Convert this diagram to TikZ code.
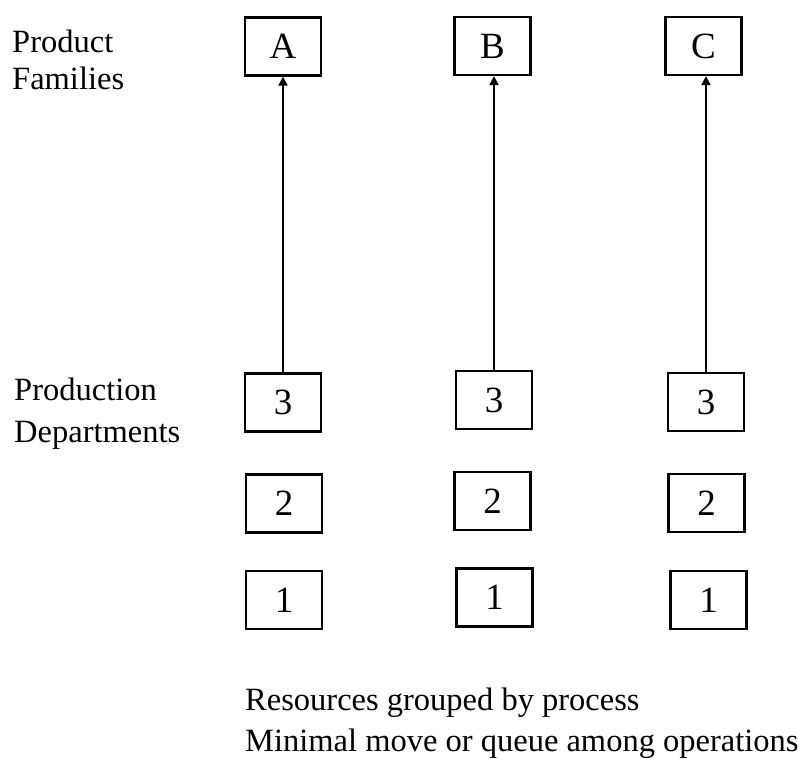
\documentclass[tikz,border=0pt]{standalone}
\usepackage{fontspec}
\setmainfont{Liberation Serif}
\usetikzlibrary{arrows.meta}
\begin{document}
\begin{tikzpicture}[x=1pt,y=-1pt,
  dept/.style={draw=black,line width=2.3pt,minimum width=76pt,minimum height=58pt,
    inner sep=0pt,font=\fontsize{37}{37}\selectfont},
  label/.style={anchor=north west,align=left,inner sep=0pt},
  flow/.style={line width=2pt,-{Triangle[length=9pt,width=9pt]}}]
\useasboundingbox (0,0) rectangle (798,758);
% product families
\node[dept] (fa) at (283,46.5) {A};
\node[dept] (fb) at (492.5,46) {B};
\node[dept] (fc) at (703.5,46) {C};
% production departments, one column per family
\node[dept] (a3) at (283,402.5) {3};
\node[dept] (a2) at (284,503.5) {2};
\node[dept] (a1) at (284,600) {1};
\node[dept] (b3) at (494,400) {3};
\node[dept] (b2) at (492.5,501) {2};
\node[dept] (b1) at (494.5,597.5) {1};
\node[dept] (c3) at (706,402) {3};
\node[dept] (c2) at (706.5,503) {2};
\node[dept] (c1) at (708.5,600) {1};
% flows from last department to family
\draw[flow] (a3.north) -- (a3.north |- fa.south);
\draw[flow] (b3.north) -- (b3.north |- fb.south);
\draw[flow] (c3.north) -- (c3.north |- fc.south);
% side labels
\node[label,font=\fontsize{32.5}{37}\selectfont] (pf) at (12,30) {Product\\Families};
\node[label,font=\fontsize{32.5}{42}\selectfont] (pd) at (14,378) {Production\\Departments};
\node[label,font=\fontsize{32.5}{41}\selectfont] (note) at (245,688) {Resources grouped by process\\Minimal move or queue among operations};
\end{tikzpicture}
\end{document}
